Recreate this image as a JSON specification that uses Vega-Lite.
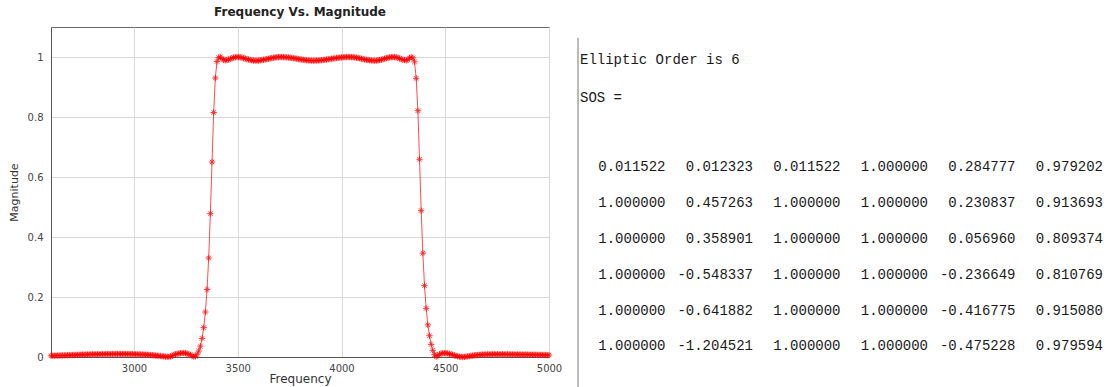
{
 "$schema": "https://vega.github.io/schema/vega-lite/v6.json",
 "padding": {"left": 7, "top": 5, "right": 0, "bottom": 0},
 "background": "white",
 "bounds": "flush",
 "spacing": 29,
 "config": {"font": "DejaVu Sans", "view": {"stroke": null}},
 "datasets": {
  "resp": [
   {"f":2600,"m":0.004},{"f":2608,"m":0.0042},{"f":2616,"m":0.0044},{"f":2624,"m":0.0046},{"f":2632,"m":0.0048},{"f":2640,"m":0.005},{"f":2648,"m":0.0052},{"f":2656,"m":0.0054},{"f":2664,"m":0.0056},{"f":2672,"m":0.0058},
   {"f":2680,"m":0.006},{"f":2688,"m":0.0062},{"f":2696,"m":0.0064},{"f":2704,"m":0.0066},{"f":2712,"m":0.0068},{"f":2720,"m":0.007},{"f":2728,"m":0.0072},{"f":2736,"m":0.0074},{"f":2744,"m":0.0076},{"f":2752,"m":0.0078},
   {"f":2760,"m":0.008},{"f":2768,"m":0.0082},{"f":2776,"m":0.0084},{"f":2784,"m":0.0086},{"f":2792,"m":0.0088},{"f":2800,"m":0.009},{"f":2808,"m":0.0091},{"f":2816,"m":0.0092},{"f":2824,"m":0.0093},{"f":2832,"m":0.0094},
   {"f":2840,"m":0.0095},{"f":2848,"m":0.0096},{"f":2856,"m":0.0097},{"f":2864,"m":0.0098},{"f":2872,"m":0.0098},{"f":2880,"m":0.0099},{"f":2888,"m":0.0099},{"f":2896,"m":0.01},{"f":2904,"m":0.01},{"f":2912,"m":0.01},
   {"f":2920,"m":0.01},{"f":2928,"m":0.01},{"f":2936,"m":0.01},{"f":2944,"m":0.01},{"f":2952,"m":0.01},{"f":2960,"m":0.0099},{"f":2968,"m":0.0099},{"f":2976,"m":0.0098},{"f":2984,"m":0.0097},{"f":2992,"m":0.0096},
   {"f":3000,"m":0.0095},{"f":3008,"m":0.0093},{"f":3016,"m":0.0091},{"f":3024,"m":0.0089},{"f":3032,"m":0.0087},{"f":3040,"m":0.0084},{"f":3048,"m":0.0081},{"f":3056,"m":0.0078},{"f":3064,"m":0.0074},{"f":3072,"m":0.007},
   {"f":3080,"m":0.0066},{"f":3088,"m":0.0061},{"f":3096,"m":0.0056},{"f":3104,"m":0.0051},{"f":3112,"m":0.0045},{"f":3120,"m":0.0039},{"f":3128,"m":0.0033},{"f":3136,"m":0.0027},{"f":3144,"m":0.002},{"f":3152,"m":0.0013},
   {"f":3160,"m":0.0006},{"f":3168,"m":0.0001},{"f":3176,"m":0.002},{"f":3184,"m":0.0045},{"f":3192,"m":0.007},{"f":3200,"m":0.009},{"f":3208,"m":0.0105},{"f":3216,"m":0.0118},{"f":3224,"m":0.0127},{"f":3232,"m":0.0132},
   {"f":3240,"m":0.0133},{"f":3248,"m":0.0127},{"f":3256,"m":0.0114},{"f":3264,"m":0.0094},{"f":3272,"m":0.0069},{"f":3280,"m":0.0041},{"f":3288,"m":0.0013},{"f":3296,"m":0.002},{"f":3304,"m":0.009},{"f":3312,"m":0.02},
   {"f":3320,"m":0.036},{"f":3328,"m":0.062},{"f":3336,"m":0.098},{"f":3344,"m":0.15},{"f":3352,"m":0.225},{"f":3360,"m":0.33},{"f":3368,"m":0.478},{"f":3376,"m":0.65},{"f":3384,"m":0.815},{"f":3392,"m":0.93},
   {"f":3400,"m":0.985},{"f":3408,"m":0.998},{"f":3416,"m":1.0},{"f":3424,"m":0.995},{"f":3432,"m":0.99},{"f":3440,"m":0.989},{"f":3448,"m":0.99},{"f":3456,"m":0.992},{"f":3464,"m":0.994},{"f":3472,"m":0.996},
   {"f":3480,"m":0.998},{"f":3488,"m":0.9995},{"f":3496,"m":1.0},{"f":3504,"m":1.0},{"f":3512,"m":0.999},{"f":3520,"m":0.998},{"f":3528,"m":0.996},{"f":3536,"m":0.995},{"f":3544,"m":0.993},{"f":3552,"m":0.992},
   {"f":3560,"m":0.99},{"f":3568,"m":0.989},{"f":3576,"m":0.988},{"f":3584,"m":0.988},{"f":3592,"m":0.988},{"f":3600,"m":0.988},{"f":3608,"m":0.989},{"f":3616,"m":0.99},{"f":3624,"m":0.991},{"f":3632,"m":0.992},
   {"f":3640,"m":0.993},{"f":3648,"m":0.994},{"f":3656,"m":0.9955},{"f":3664,"m":0.9965},{"f":3672,"m":0.9977},{"f":3680,"m":0.9986},{"f":3688,"m":0.9992},{"f":3696,"m":0.9997},{"f":3704,"m":1.0},{"f":3712,"m":1.0},
   {"f":3720,"m":0.9998},{"f":3728,"m":0.9995},{"f":3736,"m":0.9991},{"f":3744,"m":0.9985},{"f":3752,"m":0.9978},{"f":3760,"m":0.997},{"f":3768,"m":0.9961},{"f":3776,"m":0.9952},{"f":3784,"m":0.9942},{"f":3792,"m":0.9933},
   {"f":3800,"m":0.9923},{"f":3808,"m":0.9914},{"f":3816,"m":0.9906},{"f":3824,"m":0.9898},{"f":3832,"m":0.9892},{"f":3840,"m":0.9887},{"f":3848,"m":0.9883},{"f":3856,"m":0.9881},{"f":3864,"m":0.988},{"f":3872,"m":0.988},
   {"f":3880,"m":0.9883},{"f":3888,"m":0.9886},{"f":3896,"m":0.989},{"f":3904,"m":0.9895},{"f":3912,"m":0.9902},{"f":3920,"m":0.9909},{"f":3928,"m":0.9917},{"f":3936,"m":0.9925},{"f":3944,"m":0.9933},{"f":3952,"m":0.9942},
   {"f":3960,"m":0.9951},{"f":3968,"m":0.9959},{"f":3976,"m":0.9967},{"f":3984,"m":0.9975},{"f":3992,"m":0.9982},{"f":4000,"m":0.9987},{"f":4008,"m":0.9992},{"f":4016,"m":0.9996},{"f":4024,"m":0.9999},{"f":4032,"m":1.0},
   {"f":4040,"m":1.0},{"f":4048,"m":0.9997},{"f":4056,"m":0.9993},{"f":4064,"m":0.9985},{"f":4072,"m":0.9977},{"f":4080,"m":0.9966},{"f":4088,"m":0.9955},{"f":4096,"m":0.9943},{"f":4104,"m":0.9931},{"f":4112,"m":0.9919},
   {"f":4120,"m":0.9908},{"f":4128,"m":0.9899},{"f":4136,"m":0.9891},{"f":4144,"m":0.9885},{"f":4152,"m":0.9881},{"f":4160,"m":0.988},{"f":4168,"m":0.9882},{"f":4176,"m":0.9889},{"f":4184,"m":0.9899},{"f":4192,"m":0.9912},
   {"f":4200,"m":0.9928},{"f":4208,"m":0.9944},{"f":4216,"m":0.996},{"f":4224,"m":0.9975},{"f":4232,"m":0.9987},{"f":4240,"m":0.9995},{"f":4248,"m":0.9999},{"f":4256,"m":0.9999},{"f":4264,"m":0.999},{"f":4272,"m":0.9973},
   {"f":4280,"m":0.9951},{"f":4288,"m":0.9928},{"f":4296,"m":0.9908},{"f":4304,"m":0.9895},{"f":4312,"m":0.989},{"f":4320,"m":0.9914},{"f":4328,"m":0.9965},{"f":4336,"m":0.9998},{"f":4344,"m":0.997},{"f":4352,"m":0.984},
   {"f":4360,"m":0.929},{"f":4368,"m":0.821},{"f":4376,"m":0.659},{"f":4384,"m":0.488},{"f":4392,"m":0.346},{"f":4400,"m":0.238},{"f":4408,"m":0.162},{"f":4416,"m":0.107},{"f":4424,"m":0.071},{"f":4432,"m":0.042},
   {"f":4440,"m":0.022},{"f":4448,"m":0.008},{"f":4456,"m":0.001},{"f":4464,"m":0.005},{"f":4472,"m":0.009},{"f":4480,"m":0.0115},{"f":4488,"m":0.0127},{"f":4496,"m":0.013},{"f":4504,"m":0.0127},{"f":4512,"m":0.012},
   {"f":4520,"m":0.0105},{"f":4528,"m":0.009},{"f":4536,"m":0.0072},{"f":4544,"m":0.0055},{"f":4552,"m":0.0038},{"f":4560,"m":0.0024},{"f":4568,"m":0.0012},{"f":4576,"m":0.0004},{"f":4584,"m":0.0},{"f":4592,"m":0.0004},
   {"f":4600,"m":0.0012},{"f":4608,"m":0.002},{"f":4616,"m":0.003},{"f":4624,"m":0.0038},{"f":4632,"m":0.0046},{"f":4640,"m":0.0053},{"f":4648,"m":0.006},{"f":4656,"m":0.0066},{"f":4664,"m":0.0071},{"f":4672,"m":0.0076},
   {"f":4680,"m":0.008},{"f":4688,"m":0.0083},{"f":4696,"m":0.0086},{"f":4704,"m":0.0088},{"f":4712,"m":0.009},{"f":4720,"m":0.0091},{"f":4728,"m":0.0092},{"f":4736,"m":0.0093},{"f":4744,"m":0.0093},{"f":4752,"m":0.0093},
   {"f":4760,"m":0.0093},{"f":4768,"m":0.0093},{"f":4776,"m":0.0092},{"f":4784,"m":0.0092},{"f":4792,"m":0.0091},{"f":4800,"m":0.009},{"f":4808,"m":0.0089},{"f":4816,"m":0.0088},{"f":4824,"m":0.0087},{"f":4832,"m":0.0086},
   {"f":4840,"m":0.0085},{"f":4848,"m":0.0084},{"f":4856,"m":0.0083},{"f":4864,"m":0.0082},{"f":4872,"m":0.0081},{"f":4880,"m":0.008},{"f":4888,"m":0.0079},{"f":4896,"m":0.0078},{"f":4904,"m":0.0077},{"f":4912,"m":0.0076},
   {"f":4920,"m":0.0075},{"f":4928,"m":0.0074},{"f":4936,"m":0.0073},{"f":4944,"m":0.0072},{"f":4952,"m":0.0071},{"f":4960,"m":0.007},{"f":4968,"m":0.0069},{"f":4976,"m":0.0068},{"f":4984,"m":0.0067},{"f":4992,"m":0.0066},
   {"f":5000,"m":0.0065}
  ],
  "head": [
   {"col": 0, "row": 0, "t": "Elliptic Order is 6"},
   {"col": 0, "row": 1.05, "t": "SOS ="}
  ],
  "sos": [
   {"col":1,"row":3,"t":"0.011522"},{"col":2,"row":3,"t":"0.012323"},{"col":3,"row":3,"t":"0.011522"},{"col":4,"row":3,"t":"1.000000"},{"col":5,"row":3,"t":"0.284777"},{"col":6,"row":3,"t":"0.979202"},
   {"col":1,"row":4,"t":"1.000000"},{"col":2,"row":4,"t":"0.457263"},{"col":3,"row":4,"t":"1.000000"},{"col":4,"row":4,"t":"1.000000"},{"col":5,"row":4,"t":"0.230837"},{"col":6,"row":4,"t":"0.913693"},
   {"col":1,"row":5,"t":"1.000000"},{"col":2,"row":5,"t":"0.358901"},{"col":3,"row":5,"t":"1.000000"},{"col":4,"row":5,"t":"1.000000"},{"col":5,"row":5,"t":"0.056960"},{"col":6,"row":5,"t":"0.809374"},
   {"col":1,"row":6,"t":"1.000000"},{"col":2,"row":6,"t":"-0.548337"},{"col":3,"row":6,"t":"1.000000"},{"col":4,"row":6,"t":"1.000000"},{"col":5,"row":6,"t":"-0.236649"},{"col":6,"row":6,"t":"0.810769"},
   {"col":1,"row":7,"t":"1.000000"},{"col":2,"row":7,"t":"-0.641882"},{"col":3,"row":7,"t":"1.000000"},{"col":4,"row":7,"t":"1.000000"},{"col":5,"row":7,"t":"-0.416775"},{"col":6,"row":7,"t":"0.915080"},
   {"col":1,"row":8,"t":"1.000000"},{"col":2,"row":8,"t":"-1.204521"},{"col":3,"row":8,"t":"1.000000"},{"col":4,"row":8,"t":"1.000000"},{"col":5,"row":8,"t":"-0.475228"},{"col":6,"row":8,"t":"0.979594"}
  ],
  "divider": [{"col": 0, "top": -0.62, "bottom": 9.2}]
 },
 "hconcat": [
  {
   "width": 498,
   "height": 330,
   "view": {"stroke": "#6a6a6a", "strokeWidth": 1},
   "title": {"text": "Frequency Vs. Magnitude", "fontSize": 12, "fontWeight": "bold", "color": "#222", "offset": 8, "font": "DejaVu Sans"},
   "data": {"name": "resp"},
   "encoding": {
    "x": {"field": "f", "type": "quantitative",
          "scale": {"domain": [2600, 5000], "nice": false, "zero": false},
          "axis": {"values": [3000, 3500, 4000, 4500, 5000], "format": "d", "title": "Frequency", "labelFlush": false,
                   "grid": true, "gridColor": "#d8d8d8", "domainColor": "#555", "tickSize": 0,
                   "labelFontSize": 10, "labelColor": "#444", "labelPadding": 6,
                   "titleFontSize": 12, "titleFontWeight": "normal", "titleColor": "#333", "titlePadding": 0}},
    "y": {"field": "m", "type": "quantitative",
          "scale": {"domain": [0, 1.1], "nice": false},
          "axis": {"values": [0, 0.2, 0.4, 0.6, 0.8, 1], "format": ".1~f", "title": "Magnitude",
                   "grid": true, "gridColor": "#d8d8d8", "domainColor": "#555", "tickSize": 0,
                   "labelFontSize": 10, "labelColor": "#444", "labelPadding": 8,
                   "titleFontSize": 11, "titleFontWeight": "normal", "titleColor": "#333", "titlePadding": 8}}
   },
   "layer": [
    {"mark": {"type": "line", "color": "#ff0000", "strokeWidth": 1, "opacity": 0.7}},
    {"mark": {"type": "point", "shape": "M0,-1L0,1M-1,0L1,0M-0.7,-0.7L0.7,0.7M-0.7,0.7L0.7,-0.7", "size": 40, "filled": false, "color": "#ff0000", "strokeWidth": 1, "opacity": 0.75}}
   ]
  },
  {
   "width": 525,
   "height": 356,
   "view": {"stroke": null},
   "layer": [
    {
     "data": {"name": "divider"},
     "mark": {"type": "rule", "color": "#777", "strokeWidth": 1},
     "encoding": {
      "x": {"field": "col", "type": "quantitative", "scale": {"domain": [0, 6], "nice": false, "zero": false}, "axis": null},
      "y": {"field": "top", "type": "quantitative", "scale": {"domain": [-0.92, 9.02], "nice": false, "zero": false, "reverse": true}, "axis": null},
      "y2": {"field": "bottom"}
     }
    },
    {
     "data": {"name": "head"},
     "mark": {"type": "text", "align": "left", "baseline": "middle", "dx": 2, "font": "Liberation Mono", "fontSize": 14, "color": "#1a1a1a"},
     "encoding": {
      "x": {"field": "col", "type": "quantitative"},
      "y": {"field": "row", "type": "quantitative"},
      "text": {"field": "t"}
     }
    },
    {
     "data": {"name": "sos"},
     "mark": {"type": "text", "align": "right", "baseline": "middle", "font": "Liberation Mono", "fontSize": 14, "color": "#1a1a1a"},
     "encoding": {
      "x": {"field": "col", "type": "quantitative"},
      "y": {"field": "row", "type": "quantitative"},
      "text": {"field": "t"}
     }
    }
   ]
  }
 ]
}
